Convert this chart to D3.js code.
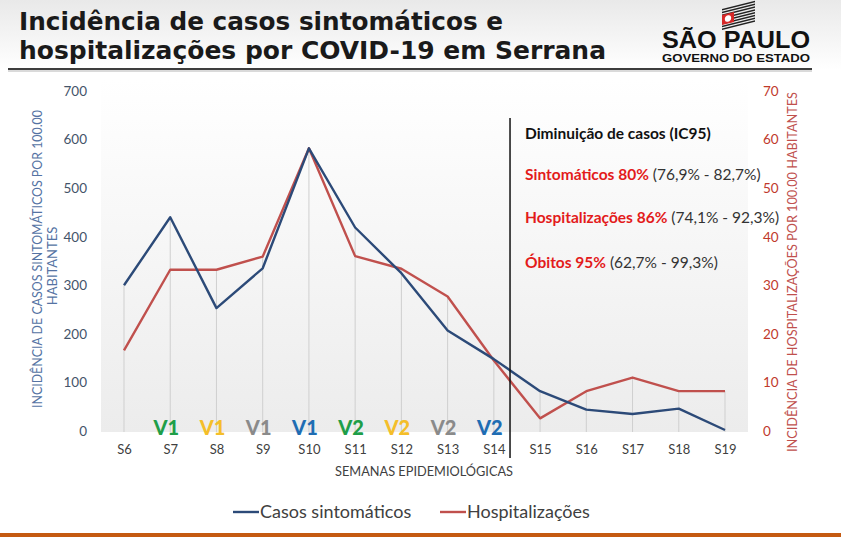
<!DOCTYPE html>
<html>
<head>
<meta charset="utf-8">
<script src="https://cdn.jsdelivr.net/npm/d3@7"></script>
<style>
  body { margin: 0; background: #fff; }
  svg { display: block; }
</style>
</head>
<body>
<div id="chart"></div>
<script>
// data
var weeks = ["S6","S7","S8","S9","S10","S11","S12","S13","S14","S15","S16","S17","S18","S19"]
var casos = [300, 440, 253, 335, 582, 419, 325, 207, 148, 82, 44, 35, 46, 2]
var hosp = [16.6, 33.2, 33.2, 35.9, 58.2, 36.0, 33.4, 27.7, 14.5, 2.6, 8.2, 11.0, 8.2, 8.2]
var leftTicks = [0, 100, 200, 300, 400, 500, 600, 700]
var rightTicks = [0, 10, 20, 30, 40, 50, 60, 70]
var doses = [
  {week: "S7", label: "V1", color: "#1e9e48"},
  {week: "S8", label: "V1", color: "#f4be2a"},
  {week: "S9", label: "V1", color: "#8a8a8a"},
  {week: "S10", label: "V1", color: "#1f6db3"},
  {week: "S11", label: "V2", color: "#1e9e48"},
  {week: "S12", label: "V2", color: "#f4be2a"},
  {week: "S13", label: "V2", color: "#8a8a8a"},
  {week: "S14", label: "V2", color: "#1f6db3"}
]
var notes = [
  {bold: "Sintomáticos 80%", rest: " (76,9% - 82,7%)"},
  {bold: "Hospitalizações 86%", rest: " (74,1% - 92,3%)"},
  {bold: "Óbitos 95%", rest: " (62,7% - 99,3%)"}
]

var W = 841, H = 537
var plot = {left: 101, right: 748, top: 80, bottom: 432}
var font = "Lato, 'Open Sans', sans-serif"
var blue = "#2c4a78", red = "#c0504d"

var svg = d3.select("#chart").append("svg")
    .attr("width", W).attr("height", H)
    .style("font-family", font)

var defs = svg.append("defs")
var hg = defs.append("linearGradient").attr("id", "hdr").attr("x1", 0).attr("x2", 0).attr("y1", 0).attr("y2", 1)
hg.append("stop").attr("offset", "0%").attr("stop-color", "#e9e9e9")
hg.append("stop").attr("offset", "100%").attr("stop-color", "#ffffff")
var pg = defs.append("linearGradient").attr("id", "plotbg").attr("x1", 0).attr("x2", 0).attr("y1", 0).attr("y2", 1)
pg.append("stop").attr("offset", "0%").attr("stop-color", "#ffffff")
pg.append("stop").attr("offset", "100%").attr("stop-color", "#ececec")

// header
var titleFont = "'DejaVu Sans Condensed', 'DejaVu Sans', sans-serif"
svg.append("rect").attr("width", W).attr("height", 70).attr("fill", "url(#hdr)")
svg.append("text").attr("x", 19).attr("y", 30)
    .attr("textLength", 484).attr("lengthAdjust", "spacingAndGlyphs")
    .style("font-family", titleFont)
    .style("font-weight", "bold").style("font-size", "24.5px").attr("fill", "#1a1a1a")
    .text("Incidência de casos sintomáticos e")
svg.append("text").attr("x", 19).attr("y", 59)
    .attr("textLength", 587).attr("lengthAdjust", "spacingAndGlyphs")
    .style("font-family", titleFont)
    .style("font-weight", "bold").style("font-size", "24.5px").attr("fill", "#1a1a1a")
    .text("hospitalizações por COVID-19 em Serrana")
svg.append("line").attr("x1", 8).attr("x2", 812).attr("y1", 69).attr("y2", 69)
    .attr("stroke", "#3d3d3d").attr("stroke-width", 2)
svg.append("line").attr("x1", 8).attr("x2", 812).attr("y1", 71).attr("y2", 71)
    .attr("stroke", "#b5b5b5").attr("stroke-width", 1)

// logo
var logo = svg.append("g")
var flag = logo.append("g").attr("transform", "translate(722,9) skewY(-14)")
for (var s = 0; s < 8; s++) {
  flag.append("rect").attr("x", 0).attr("y", s * 2.8).attr("width", 33).attr("height", 1.5)
      .attr("fill", "#222")
}
flag.append("rect").attr("x", 0).attr("y", 6).attr("width", 12).attr("height", 10).attr("fill", "#d62828")
flag.append("circle").attr("cx", 6).attr("cy", 11).attr("r", 3.2).attr("fill", "#fff")
logo.append("text").attr("x", 662).attr("y", 48)
    .attr("textLength", 148).attr("lengthAdjust", "spacingAndGlyphs")
    .style("font-family", "'Liberation Sans', Arial, sans-serif")
    .style("font-weight", "bold").style("font-size", "24px").attr("fill", "#111")
    .text("SÃO PAULO")
logo.append("text").attr("x", 662).attr("y", 62)
    .attr("textLength", 148).attr("lengthAdjust", "spacingAndGlyphs")
    .style("font-family", "'Liberation Sans', Arial, sans-serif")
    .style("font-weight", "bold").style("font-size", "10px").attr("fill", "#111")
    .text("GOVERNO DO ESTADO")

// scales
var x = d3.scalePoint().domain(weeks).range([124, 725])
var yL = d3.scaleLinear().domain([0, 700]).range([431, 91])
var yR = d3.scaleLinear().domain([0, 70]).range([431, 91])

svg.append("rect").attr("x", plot.left).attr("y", plot.top)
    .attr("width", plot.right - plot.left).attr("height", plot.bottom - plot.top)
    .attr("fill", "url(#plotbg)")

// drop lines from the higher point
svg.append("g").selectAll("line").data(weeks).join("line")
    .attr("x1", function(d) { return x(d) }).attr("x2", function(d) { return x(d) })
    .attr("y1", function(d, i) { return Math.min(yL(casos[i]), yR(hosp[i])) })
    .attr("y2", plot.bottom)
    .attr("stroke", "#cfcfcf").attr("stroke-width", 1)

// axes
var axL = svg.append("g").attr("transform", "translate(" + plot.left + ",0)")
    .call(d3.axisLeft(yL).tickValues(leftTicks).tickSize(0).tickPadding(14))
axL.select(".domain").remove()
axL.selectAll("text").attr("fill", "#44546a").style("font-size", "13.5px").style("font-family", font)

var axR = svg.append("g").attr("transform", "translate(" + plot.right + ",0)")
    .call(d3.axisRight(yR).tickValues(rightTicks).tickSize(0).tickPadding(15))
axR.select(".domain").remove()
axR.selectAll("text").attr("fill", "#c0392b").style("font-size", "13.5px").style("font-family", font)

var axB = svg.append("g").attr("transform", "translate(0," + plot.bottom + ")")
    .call(d3.axisBottom(x).tickSize(0).tickPadding(13))
axB.select(".domain").remove()
axB.selectAll("text").attr("fill", "#404040").style("font-size", "13px").style("font-family", font)

// axis titles
var lt = svg.append("text").attr("transform", "translate(42,259) rotate(-90)")
    .attr("text-anchor", "middle").attr("fill", "#5573a3").style("font-size", "13px")
lt.append("tspan").attr("x", 0).attr("y", 0).attr("textLength", 298).attr("lengthAdjust", "spacingAndGlyphs")
    .text("INCIDÊNCIA DE CASOS SINTOMÁTICOS POR 100.00")
lt.append("tspan").attr("x", -7).attr("y", 15).text("HABITANTES")

svg.append("text").attr("transform", "translate(797,272) rotate(-90)")
    .attr("text-anchor", "middle").attr("fill", "#c0504d").style("font-size", "13px")
    .attr("textLength", 360).attr("lengthAdjust", "spacingAndGlyphs")
    .text("INCIDÊNCIA DE HOSPITALIZAÇÕES POR 100.00 HABITANTES")

svg.append("text").attr("x", 424).attr("y", 476).attr("text-anchor", "middle")
    .attr("fill", "#404040").style("font-size", "13px")
    .attr("textLength", 178).attr("lengthAdjust", "spacingAndGlyphs")
    .text("SEMANAS EPIDEMIOLÓGICAS")

// vaccine dose labels
svg.append("g").selectAll("text").data(doses).join("text")
    .attr("x", function(d) { return x(d.week) - 4 }).attr("y", 435)
    .attr("text-anchor", "middle").attr("fill", function(d) { return d.color })
    .style("font-size", "20px").style("font-weight", "900")
    .text(function(d) { return d.label })

// series
var lineL = d3.line().x(function(d, i) { return x(weeks[i]) }).y(function(d) { return yL(d) })
var lineR = d3.line().x(function(d, i) { return x(weeks[i]) }).y(function(d) { return yR(d) })
svg.append("path").datum(hosp).attr("d", lineR)
    .attr("fill", "none").attr("stroke", red).attr("stroke-width", 2.4).attr("stroke-linejoin", "round")
svg.append("path").datum(casos).attr("d", lineL)
    .attr("fill", "none").attr("stroke", blue).attr("stroke-width", 2.4).attr("stroke-linejoin", "round")

// split line between S14 and S15
var splitX = x("S14") + x.step() * 0.35
svg.append("line").attr("x1", splitX).attr("x2", splitX).attr("y1", 118).attr("y2", 458)
    .attr("stroke", "#111").attr("stroke-width", 1.5)

// annotation
svg.append("text").attr("x", 525).attr("y", 139).attr("fill", "#111")
    .style("font-size", "15.5px").style("font-weight", "bold")
    .text("Diminuição de casos (IC95)")
var nt = svg.append("g").selectAll("text").data(notes).join("text")
    .attr("x", 525).attr("y", function(d, i) { return 180 + i * 43 + (i == 2 ? 2 : 0) })
    .style("font-size", "15.5px")
nt.append("tspan").attr("fill", "#e31b1b").style("font-weight", "bold").text(function(d) { return d.bold })
nt.append("tspan").attr("fill", "#333").text(function(d) { return d.rest })

// legend
var legend = [{name: "Casos sintomáticos", color: blue, x: 233}, {name: "Hospitalizações", color: red, x: 440}]
var lg = svg.append("g").selectAll("g").data(legend).join("g")
    .attr("transform", function(d) { return "translate(" + d.x + ",512)" })
lg.append("line").attr("x1", 0).attr("x2", 26).attr("stroke", function(d) { return d.color }).attr("stroke-width", 2.4)
lg.append("text").attr("x", 27).attr("y", 6).attr("fill", "#404040").style("font-size", "18px")
    .text(function(d) { return d.name })

// bottom orange bar
svg.append("rect").attr("x", 0).attr("y", 533).attr("width", W).attr("height", 4).attr("fill", "#c55a11")
</script>
</body>
</html>
